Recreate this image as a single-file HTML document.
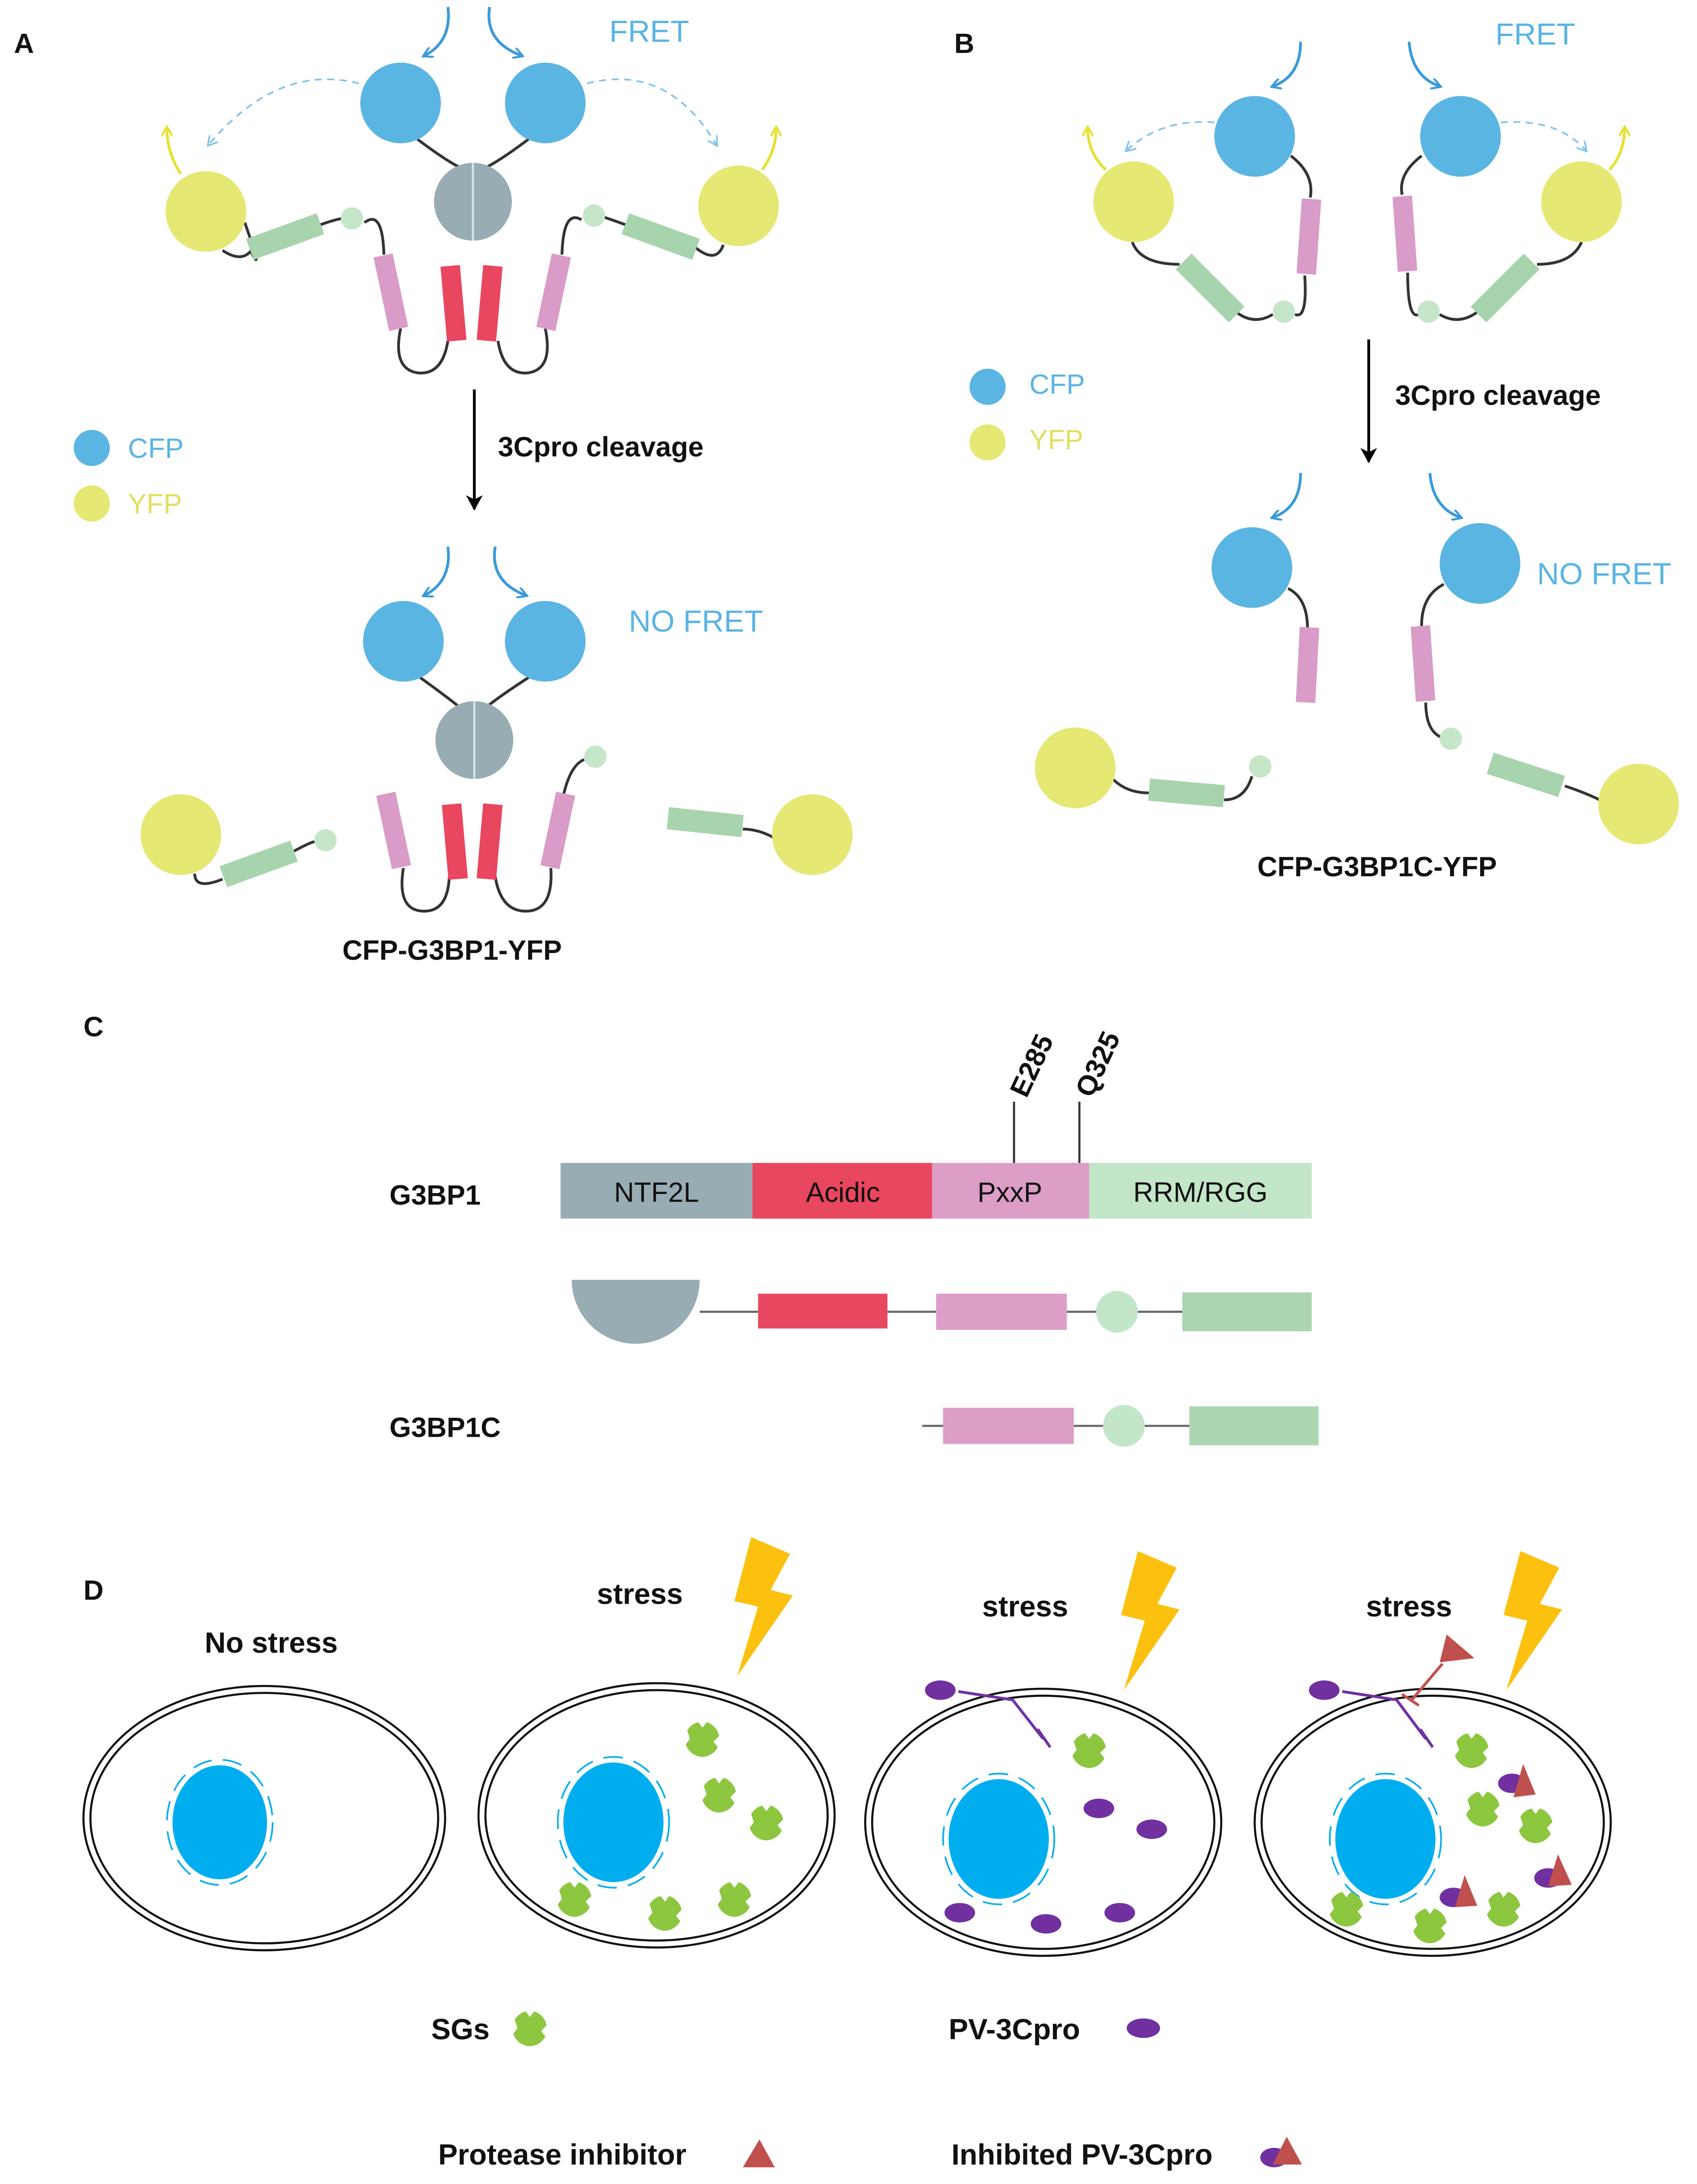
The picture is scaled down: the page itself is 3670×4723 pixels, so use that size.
<!DOCTYPE html>
<html><head><meta charset="utf-8"><style>html,body{margin:0;padding:0;background:#fff}svg{display:block}text{font-family:"Liberation Sans",Arial,sans-serif}</style></head><body>
<svg width="3670" height="4723" viewBox="0 0 1220 1570" xmlns="http://www.w3.org/2000/svg">
<defs>
<marker id="ab" markerWidth="8" markerHeight="8" refX="6" refY="4" orient="auto" markerUnits="userSpaceOnUse"><path d="M0,0 L7,4 L0,8" fill="none" stroke="#3a9ad9" stroke-width="1.5"/></marker>
<marker id="ay" markerWidth="8" markerHeight="8" refX="6" refY="4" orient="auto" markerUnits="userSpaceOnUse"><path d="M0,0 L7,4 L0,8" fill="none" stroke="#e8e030" stroke-width="1.5"/></marker>
<marker id="ad" markerWidth="8" markerHeight="8" refX="6" refY="4" orient="auto" markerUnits="userSpaceOnUse"><path d="M0,0 L7,4 L0,8" fill="none" stroke="#7fc3ea" stroke-width="1.2"/></marker>
<marker id="ak" markerWidth="12" markerHeight="12" refX="10" refY="6" orient="auto" markerUnits="userSpaceOnUse"><path d="M0,0 L11,6 L0,12 L3,6z" fill="#000"/></marker>
<g id="sg"><path d="M-11,-6 A13,13 0 0 1 -3,-12 L0,-8 L3,-12 A13,13 0 0 1 12,-2 L8,2 L11,6 A13,13 0 0 1 0,13 A13,13 0 0 1 -12,4 L-9,0z" fill="#8dc63f"/></g>
<g id="bolt"><path d="M0,0 L28,12 L14,38 L30,42 L-10,100 L5,50 L-12,46z" fill="#fcc10f"/></g>
</defs>
<g font-weight="bold" font-size="20" fill="#111">
<text x="10" y="38">A</text><text x="686" y="38">B</text><text x="60" y="745">C</text><text x="60" y="1150">D</text></g>

<!-- Panel A top -->
<g fill="none" stroke="#333" stroke-width="2">
<path d="M300,100 Q320,115 330,120"/><path d="M380,100 Q360,115 350,120"/>
<path d="M262,160 Q275,150 276,183"/><path d="M418,158 Q405,150 404,183"/>
<path d="M176,160 Q190,200 180,180"/><path d="M160,180 Q175,190 182,178"/><path d="M229,162 Q240,158 246,157"/>
<path d="M500,178 Q515,190 520,176"/><path d="M451,162 Q440,158 434,156"/>
<path d="M288,236 Q282,265 300,268 Q318,270 322,245"/><path d="M392,236 Q398,265 380,268 Q362,270 358,245"/>
</g>
<g fill="none" stroke="#3a9ad9" stroke-width="2"><path d="M322,5 Q325,30 305,40" marker-end="url(#ab)"/><path d="M352,5 Q348,30 375,40" marker-end="url(#ab)"/></g>
<g fill="none" stroke="#7fc3ea" stroke-width="1.2" stroke-dasharray="5,4"><path d="M258,60 Q200,45 150,104" marker-end="url(#ad)"/><path d="M422,60 Q480,45 515,104" marker-end="url(#ad)"/></g>
<g fill="none" stroke="#e8e030" stroke-width="2"><path d="M130,125 Q120,110 120,92" marker-end="url(#ay)"/><path d="M548,122 Q558,108 558,92" marker-end="url(#ay)"/></g>
<circle cx="288" cy="74" r="29" fill="#5bb5e3"/><circle cx="392" cy="74" r="29" fill="#5bb5e3"/>
<circle cx="148" cy="152" r="29" fill="#e6e874"/><circle cx="531" cy="148" r="29" fill="#e6e874"/>
<circle cx="340" cy="145" r="28" fill="#98adb3"/><line x1="340" y1="117" x2="340" y2="173" stroke="#cfe6f2" stroke-width="1.5"/>
<rect x="-27" y="-8" width="54" height="16" fill="#a8d4ad" transform="translate(205,170) rotate(-20)"/>
<rect x="-27" y="-8" width="54" height="16" fill="#a8d4ad" transform="translate(475,170) rotate(20)"/>
<circle cx="253" cy="157" r="8" fill="#c5e6c8"/><circle cx="427" cy="155" r="8" fill="#c5e6c8"/>
<rect x="-7" y="-27" width="14" height="54" fill="#d99bc8" transform="translate(281,210) rotate(-12)"/>
<rect x="-7" y="-27" width="14" height="54" fill="#d99bc8" transform="translate(398,210) rotate(12)"/>
<rect x="-7" y="-27" width="14" height="54" fill="#e9465f" transform="translate(326,218) rotate(-5)"/>
<rect x="-7" y="-27" width="14" height="54" fill="#e9465f" transform="translate(352,218) rotate(5)"/>
<text x="438" y="30" font-size="22" fill="#5ab4e5">FRET</text>
<line x1="341" y1="280" x2="341" y2="366" stroke="#000" stroke-width="2" marker-end="url(#ak)"/>
<text x="358" y="328" font-size="20" font-weight="bold" fill="#111">3Cpro cleavage</text>
<circle cx="66" cy="322" r="13" fill="#5bb5e3"/><text x="92" y="329" font-size="20" fill="#5ab4e5">CFP</text>
<circle cx="66" cy="362" r="13" fill="#e6e874"/><text x="92" y="369" font-size="20" fill="#e0e060">YFP</text>

<!-- A bottom -->
<g fill="none" stroke="#333" stroke-width="2">
<path d="M302,487 Q320,500 330,508"/><path d="M380,487 Q360,500 350,508"/>
<path d="M290,624 Q285,655 305,655 Q322,655 323,630"/><path d="M396,624 Q398,655 378,655 Q360,655 356,630"/>
<path d="M405,572 Q410,550 420,546"/>
<path d="M140,628 Q140,640 160,632"/><path d="M211,612 Q222,606 226,605"/>
<path d="M534,596 Q545,596 556,602"/>
</g>
<g fill="none" stroke="#3a9ad9" stroke-width="2"><path d="M322,393 Q325,418 305,428" marker-end="url(#ab)"/><path d="M356,393 Q352,418 378,428" marker-end="url(#ab)"/></g>
<circle cx="290" cy="461" r="29" fill="#5bb5e3"/><circle cx="392" cy="461" r="29" fill="#5bb5e3"/>
<circle cx="341" cy="532" r="28" fill="#98adb3"/><line x1="341" y1="504" x2="341" y2="560" stroke="#cfe6f2" stroke-width="1.5"/>
<rect x="-7" y="-27" width="14" height="54" fill="#d99bc8" transform="translate(283,597) rotate(-12)"/>
<rect x="-7" y="-27" width="14" height="54" fill="#d99bc8" transform="translate(401,597) rotate(12)"/>
<rect x="-7" y="-27" width="14" height="54" fill="#e9465f" transform="translate(327,605) rotate(-5)"/>
<rect x="-7" y="-27" width="14" height="54" fill="#e9465f" transform="translate(352,605) rotate(5)"/>
<circle cx="428" cy="544" r="8" fill="#c5e6c8"/>
<circle cx="130" cy="600" r="29" fill="#e6e874"/>
<rect x="-27" y="-8" width="54" height="16" fill="#a8d4ad" transform="translate(186,621) rotate(-20)"/>
<circle cx="234" cy="604" r="8" fill="#c5e6c8"/>
<rect x="-27" y="-8" width="54" height="16" fill="#a8d4ad" transform="translate(507,591) rotate(6)"/>
<circle cx="584" cy="600" r="29" fill="#e6e874"/>
<text x="452" y="454" font-size="22" fill="#5ab4e5">NO FRET</text>
<text x="325" y="690" font-size="20" font-weight="bold" text-anchor="middle" fill="#111">CFP-G3BP1-YFP</text>

<!-- Panel B top -->
<g fill="none" stroke="#333" stroke-width="2">
<path d="M928,112 Q945,125 942,142"/><path d="M1022,112 Q1005,125 1008,140"/>
<path d="M814,174 Q820,190 848,190"/><path d="M886,222 Q900,235 915,226"/><path d="M931,226 Q940,230 938,198"/>
<path d="M1137,174 Q1130,190 1105,190"/><path d="M1065,222 Q1050,235 1035,226"/><path d="M1020,226 Q1012,230 1012,196"/>
</g>
<g fill="none" stroke="#3a9ad9" stroke-width="2"><path d="M935,30 Q935,55 915,62" marker-end="url(#ab)"/><path d="M1013,30 Q1015,55 1035,62" marker-end="url(#ab)"/></g>
<g fill="none" stroke="#7fc3ea" stroke-width="1.2" stroke-dasharray="5,4"><path d="M873,88 Q835,85 810,108" marker-end="url(#ad)"/><path d="M1079,88 Q1120,85 1140,108" marker-end="url(#ad)"/></g>
<g fill="none" stroke="#e8e030" stroke-width="2"><path d="M795,122 Q782,110 782,92" marker-end="url(#ay)"/><path d="M1157,122 Q1168,110 1168,92" marker-end="url(#ay)"/></g>
<circle cx="902" cy="98" r="29" fill="#5bb5e3"/><circle cx="1050" cy="98" r="29" fill="#5bb5e3"/>
<circle cx="815" cy="145" r="29" fill="#e6e874"/><circle cx="1137" cy="145" r="29" fill="#e6e874"/>
<rect x="-7" y="-27" width="14" height="54" fill="#d99bc8" transform="translate(941,170) rotate(4)"/>
<rect x="-7" y="-27" width="14" height="54" fill="#d99bc8" transform="translate(1010,168) rotate(-4)"/>
<rect x="-27" y="-8" width="54" height="16" fill="#a8d4ad" transform="translate(870,207) rotate(45)"/>
<rect x="-27" y="-8" width="54" height="16" fill="#a8d4ad" transform="translate(1082,207) rotate(-45)"/>
<circle cx="923" cy="224" r="8" fill="#c5e6c8"/><circle cx="1027" cy="224" r="8" fill="#c5e6c8"/>
<text x="1075" y="32" font-size="22" fill="#5ab4e5">FRET</text>
<circle cx="710" cy="278" r="13" fill="#5bb5e3"/><text x="740" y="283" font-size="20" fill="#5ab4e5">CFP</text>
<circle cx="710" cy="318" r="13" fill="#e6e874"/><text x="740" y="323" font-size="20" fill="#e0e060">YFP</text>
<line x1="984" y1="244" x2="984" y2="332" stroke="#000" stroke-width="2" marker-end="url(#ak)"/>
<text x="1003" y="291" font-size="20" font-weight="bold" fill="#111">3Cpro cleavage</text>

<!-- B bottom -->
<g fill="none" stroke="#333" stroke-width="2">
<path d="M926,423 Q940,430 940,452"/><path d="M1038,420 Q1022,428 1022,450"/>
<path d="M1025,505 Q1025,525 1036,530"/><path d="M1125,565 Q1140,570 1150,575"/>
<path d="M800,560 Q810,570 826,570"/><path d="M880,575 Q895,575 900,558"/>
</g>
<g fill="none" stroke="#3a9ad9" stroke-width="2"><path d="M935,340 Q935,365 915,372" marker-end="url(#ab)"/><path d="M1028,340 Q1030,365 1050,372" marker-end="url(#ab)"/></g>
<circle cx="900" cy="408" r="29" fill="#5bb5e3"/><circle cx="1064" cy="405" r="29" fill="#5bb5e3"/>
<rect x="-7" y="-27" width="14" height="54" fill="#d99bc8" transform="translate(940,478) rotate(3)"/>
<rect x="-7" y="-27" width="14" height="54" fill="#d99bc8" transform="translate(1023,477) rotate(-4)"/>
<circle cx="1043" cy="531" r="8" fill="#c5e6c8"/>
<rect x="-27" y="-8" width="54" height="16" fill="#a8d4ad" transform="translate(1097,557) rotate(18)"/>
<circle cx="1178" cy="578" r="29" fill="#e6e874"/>
<circle cx="773" cy="552" r="29" fill="#e6e874"/>
<rect x="-27" y="-8" width="54" height="16" fill="#a8d4ad" transform="translate(853,570) rotate(5)"/>
<circle cx="906" cy="551" r="8" fill="#c5e6c8"/>
<text x="1105" y="420" font-size="22" fill="#5ab4e5">NO FRET</text>
<text x="990" y="630" font-size="20" font-weight="bold" text-anchor="middle" fill="#111">CFP-G3BP1C-YFP</text>

<!-- Panel C -->
<text x="280" y="866" font-size="20" font-weight="bold" fill="#111">G3BP1</text>
<rect x="403" y="836" width="138" height="40" fill="#98adb3"/>
<rect x="541" y="836" width="129" height="40" fill="#e9465f"/>
<rect x="670" y="836" width="113" height="40" fill="#dc9dc7"/>
<rect x="783" y="836" width="160" height="40" fill="#c3e6c8"/>
<g font-size="20" text-anchor="middle" fill="#111"><text x="472" y="864">NTF2L</text><text x="606" y="864">Acidic</text><text x="726" y="864">PxxP</text><text x="863" y="864">RRM/RGG</text></g>
<line x1="729" y1="836" x2="729" y2="792" stroke="#333" stroke-width="1.5"/><line x1="776" y1="836" x2="776" y2="792" stroke="#333" stroke-width="1.5"/>
<text transform="translate(738,790) rotate(-65)" font-size="20" font-weight="bold" fill="#111">E285</text>
<text transform="translate(785,790) rotate(-65)" font-size="20" font-weight="bold" fill="#111">Q325</text>
<path d="M411,920 L503,920 A46,46 0 0 1 411,920z" fill="#98adb3"/>
<g stroke="#666" stroke-width="1.5"><line x1="503" y1="943" x2="545" y2="943"/><line x1="638" y1="943" x2="673" y2="943"/><line x1="767" y1="943" x2="850" y2="943"/>
<line x1="663" y1="1025" x2="855" y2="1025"/></g>
<rect x="545" y="930" width="93" height="25" fill="#e9465f"/>
<rect x="673" y="930" width="94" height="26" fill="#dc9dc7"/>
<circle cx="803" cy="943" r="15" fill="#c3e6c8"/>
<rect x="850" y="929" width="93" height="28" fill="#acd6b2"/>
<text x="280" y="1033" font-size="20" font-weight="bold" fill="#111">G3BP1C</text>
<rect x="678" y="1012" width="94" height="26" fill="#dc9dc7"/>
<circle cx="808" cy="1025" r="15" fill="#c3e6c8"/>
<rect x="855" y="1011" width="93" height="28" fill="#acd6b2"/>

<!-- Panel D -->
<g fill="none" stroke="#111" stroke-width="1.5">
<ellipse cx="190" cy="1307" rx="130" ry="95"/><ellipse cx="190" cy="1307" rx="125" ry="90"/>
<ellipse cx="472" cy="1305" rx="128" ry="95"/><ellipse cx="472" cy="1305" rx="123" ry="90"/>
<ellipse cx="750" cy="1310" rx="128" ry="96"/><ellipse cx="750" cy="1310" rx="123" ry="91"/>
<ellipse cx="1030" cy="1310" rx="128" ry="96"/><ellipse cx="1030" cy="1310" rx="123" ry="91"/>
</g>
<g fill="#00aeef"><ellipse cx="158" cy="1310" rx="34" ry="41"/><ellipse cx="441" cy="1310" rx="36" ry="43"/><ellipse cx="718" cy="1322" rx="36" ry="43"/><ellipse cx="996" cy="1322" rx="36" ry="43"/></g>
<g fill="none" stroke="#00aeef" stroke-width="1.2" stroke-dasharray="14,8">
<ellipse cx="158" cy="1310" rx="38" ry="45"/><ellipse cx="441" cy="1310" rx="40" ry="47"/><ellipse cx="718" cy="1322" rx="40" ry="47"/><ellipse cx="996" cy="1322" rx="40" ry="47"/></g>
<g font-size="21" font-weight="bold" fill="#111" text-anchor="middle"><text x="195" y="1188">No stress</text><text x="460" y="1153">stress</text><text x="737" y="1162">stress</text><text x="1013" y="1162">stress</text></g>
<use href="#bolt" x="540" y="1105"/><use href="#bolt" x="818" y="1115"/><use href="#bolt" x="1093" y="1115"/>
<g><use href="#sg" x="505" y="1250"/><use href="#sg" x="517" y="1290"/><use href="#sg" x="551" y="1310"/><use href="#sg" x="413" y="1365"/><use href="#sg" x="478" y="1375"/><use href="#sg" x="528" y="1365"/>
<use href="#sg" x="783" y="1258"/>
<use href="#sg" x="1058" y="1258"/><use href="#sg" x="1066" y="1300"/><use href="#sg" x="1104" y="1312"/><use href="#sg" x="968" y="1372"/><use href="#sg" x="1028" y="1384"/><use href="#sg" x="1081" y="1372"/></g>
<g fill="#7030a0"><ellipse cx="790" cy="1300" rx="11" ry="7"/><ellipse cx="828" cy="1315" rx="11" ry="7"/><ellipse cx="690" cy="1375" rx="11" ry="7"/><ellipse cx="752" cy="1383" rx="11" ry="7"/><ellipse cx="805" cy="1375" rx="11" ry="7"/><ellipse cx="676" cy="1215" rx="11" ry="7"/><ellipse cx="952" cy="1215" rx="11" ry="7"/>
<ellipse cx="1087" cy="1282" rx="10" ry="7"/><ellipse cx="1113" cy="1350" rx="10" ry="7"/><ellipse cx="1045" cy="1364" rx="10" ry="7"/></g>
<g fill="none" stroke="#7030a0" stroke-width="2"><path d="M689,1216 L728,1222 L750,1250"/><path d="M746,1243 L755,1256"/><path d="M965,1216 L1004,1222 L1025,1250"/><path d="M1021,1243 L1030,1256"/></g>
<g fill="none" stroke="#c0504d" stroke-width="2"><path d="M1037,1196 L1015,1222"/><path d="M1008,1218 L1020,1226"/></g>
<g fill="#c0504d"><path d="M1040,1175 L1060,1192 L1035,1195z"/><path d="M1095,1268 L1104,1290 L1088,1292z"/><path d="M1120,1333 L1130,1355 L1113,1356z"/><path d="M1053,1348 L1062,1370 L1046,1371z"/></g>
<g font-size="21" font-weight="bold" fill="#111"><text x="310" y="1466">SGs</text><text x="682" y="1466">PV-3Cpro</text><text x="315" y="1556">Protease inhibitor</text><text x="684" y="1556">Inhibited PV-3Cpro</text></g>
<use href="#sg" x="381" y="1458"/>
<ellipse cx="822" cy="1458" rx="12" ry="7" fill="#7030a0"/>
<path d="M546,1538 L557,1558 L534,1558z" fill="#c0504d"/>
<ellipse cx="916" cy="1551" rx="10" ry="7" fill="#7030a0"/><path d="M925,1536 L936,1556 L915,1556z" fill="#c0504d"/>
</svg>
</body></html>
